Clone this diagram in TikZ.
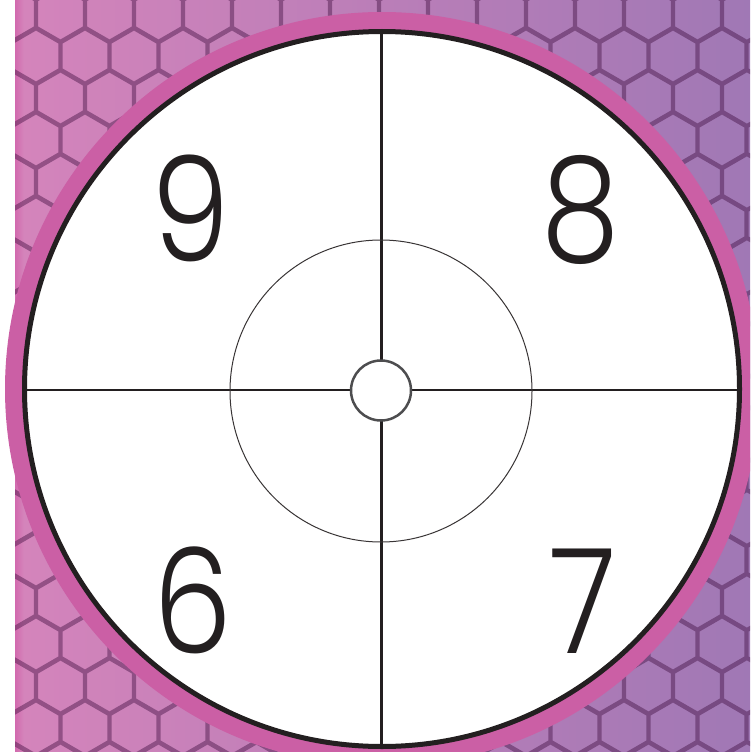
\documentclass[tikz,border=0pt]{standalone}
\usepackage{fontspec}
\IfFontExistsTF{Poppins Light}{\setmainfont{Poppins Light}}{\setmainfont{Poppins}}
\usepackage{xcolor}
\usepackage{tikz}
\usetikzlibrary{calc}
\definecolor{ink}{HTML}{231F20}
\definecolor{ringpink}{HTML}{CB5FA5}
\definecolor{hexdark}{HTML}{3C0A3C}
\definecolor{edgepink}{HTML}{D26AAE}
\definecolor{leftpink}{HTML}{D484BB}
\definecolor{rightpurple}{HTML}{A078B5}
\definecolor{dotgray}{HTML}{4D4D4F}
\pgfdeclarehorizontalshading{bgshade}{100bp}{color(0bp)=(edgepink); color(25bp)=(edgepink);
  color(25.6bp)=(leftpink); color(75bp)=(rightpurple); color(100bp)=(rightpurple)}

\begin{document}
\begin{tikzpicture}[
    x=1pt, y=-1pt,
    hexline/.style={draw=hexdark, draw opacity=0.42, line width=4.2pt, line join=miter},
    axis/.style={draw=ink, line width=2.2pt},
    digit/.style={font=\fontsize{146}{146}\selectfont, text=ink, inner sep=0pt,
                  xscale=0.86, transform shape},
]
\useasboundingbox (0,0) rectangle (750,752);
\clip (0,0) rectangle (750,752);
\fill[white] (0,0) rectangle (750,752);
\begin{scope}
\clip (15,0) rectangle (750,752);
\shade[shading=bgshade] (15,0) rectangle (750,752);
\path[hexline] \foreach \j in {0,...,18}{
    \foreach \k [evaluate=\k as \cx using {354.5+49*\k-24.5*mod(\j,2)}] in {-8,...,8}{
      ({\cx},{14+42*\j}) +(90:28.3) -- +(30:28.3) -- +(-30:28.3) -- +(-90:28.3)
        -- +(-150:28.3) -- +(150:28.3) -- cycle
    }};
\end{scope}
\coordinate (centre) at (382,389);
\fill[ringpink] (centre) circle[radius=377pt];
\draw[ink, fill=white, line width=5pt] (centre) circle[radius=357.5pt];
\coordinate (west) at (27,390);
\coordinate (east) at (737,390);
\coordinate (north) at (381.5,34);
\coordinate (south) at (381.5,744);
\draw[axis] (west) -- (east);
\draw[axis] (north) -- (south);
\draw[ink!90, line width=1pt] (381,391) circle[radius=151pt];
\node[circle, draw=dotgray, fill=white, line width=2.5pt, minimum size=60pt, inner sep=0pt] (bull) at (381,390.5) {};
\node[digit] (nine) at (191,208.5) {9};
\node[digit] (eight) at (580.5,210) {8};
\node[digit] (six) at (192.5,600) {6};
\node[digit] (seven) at (582.5,601) {7};
\end{tikzpicture}
\end{document}
